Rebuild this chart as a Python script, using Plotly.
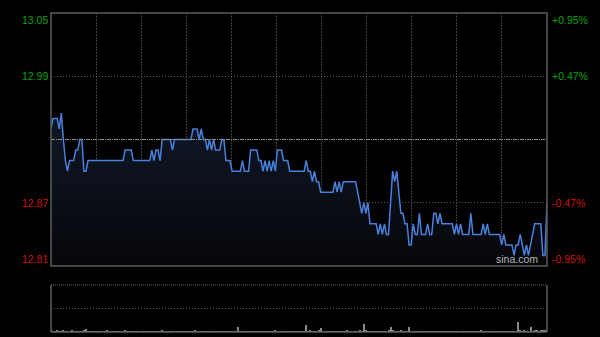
import plotly.graph_objects as go

# ---------------- data ----------------
minutes = list(range(242))
prices = [
    12.94, 12.95, 12.95, 12.95, 12.94, 12.955, 12.93, 12.91, 12.90, 12.91,
    12.91, 12.91, 12.92, 12.92, 12.93, 12.93, 12.90, 12.90, 12.91, 12.91,
    12.91, 12.91, 12.91, 12.91, 12.91, 12.91, 12.91, 12.91, 12.91, 12.91,
    12.91, 12.91, 12.91, 12.91, 12.91, 12.91, 12.92, 12.92, 12.92, 12.92,
    12.91, 12.91, 12.91, 12.91, 12.91, 12.91, 12.91, 12.91, 12.91, 12.92,
    12.91, 12.92, 12.92, 12.91, 12.93, 12.93, 12.93, 12.93, 12.93, 12.92,
    12.93, 12.93, 12.93, 12.93, 12.93, 12.93, 12.93, 12.93, 12.93, 12.94,
    12.94, 12.94, 12.93, 12.94, 12.93, 12.93, 12.92, 12.93, 12.92, 12.93,
    12.92, 12.92, 12.92, 12.93, 12.93, 12.91, 12.91, 12.91, 12.90, 12.90,
    12.90, 12.90, 12.90, 12.91, 12.90, 12.90, 12.90, 12.92, 12.92, 12.92,
    12.92, 12.91, 12.91, 12.90, 12.91, 12.90, 12.91, 12.90, 12.91, 12.90,
    12.92, 12.92, 12.92, 12.91, 12.91, 12.91, 12.90, 12.90, 12.90, 12.90,
    12.90, 12.90, 12.90, 12.90, 12.91, 12.90, 12.90, 12.89, 12.90, 12.89,
    12.89, 12.88, 12.88, 12.88, 12.88, 12.88, 12.88, 12.88, 12.89, 12.88,
    12.89, 12.88, 12.89, 12.89, 12.89, 12.89, 12.89, 12.89, 12.89, 12.88,
    12.87, 12.86, 12.87, 12.86, 12.87, 12.85, 12.85, 12.85, 12.85, 12.84,
    12.85, 12.84, 12.85, 12.84, 12.84, 12.87, 12.90, 12.89, 12.90, 12.88,
    12.86, 12.86, 12.85, 12.85, 12.83, 12.83, 12.85, 12.84, 12.84, 12.86,
    12.84, 12.84, 12.84, 12.85, 12.84, 12.84, 12.86, 12.86, 12.85, 12.86,
    12.85, 12.85, 12.85, 12.85, 12.85, 12.85, 12.84, 12.85, 12.84, 12.85,
    12.84, 12.84, 12.84, 12.84, 12.86, 12.84, 12.84, 12.84, 12.84, 12.84,
    12.85, 12.84, 12.85, 12.84, 12.84, 12.84, 12.84, 12.84, 12.84, 12.83,
    12.84, 12.83, 12.83, 12.83, 12.83, 12.82, 12.83, 12.83, 12.84, 12.83,
    12.82, 12.83, 12.82, 12.83, 12.84, 12.85, 12.85, 12.85, 12.85, 12.82,
    12.82, 12.87,
]
volumes = [
    3, 2, 2, 3, 2, 2, 3, 2, 2, 2, 3, 2, 2, 2, 2, 2, 3, 7, 2, 2,
    2, 2, 2, 1, 2, 2, 2, 3, 2, 2, 2, 2, 2, 2, 2, 2, 3, 2, 2, 2,
    2, 2, 2, 2, 2, 2, 2, 2, 2, 2, 2, 2, 2, 2, 3, 2, 2, 2, 2, 2,
    2, 2, 2, 2, 2, 2, 2, 2, 2, 2, 3, 2, 2, 2, 2, 2, 2, 2, 2, 2,
    2, 2, 2, 2, 2, 2, 2, 2, 2, 2, 2, 10, 2, 2, 2, 2, 2, 2, 2, 2,
    2, 2, 2, 2, 2, 2, 2, 2, 2, 3, 2, 2, 2, 2, 2, 2, 2, 2, 2, 2,
    2, 2, 2, 2, 14, 2, 3, 2, 2, 2, 3, 9, 2, 2, 2, 2, 2, 2, 2, 2,
    2, 2, 2, 2, 3, 2, 2, 2, 2, 2, 3, 2, 18, 3, 2, 2, 2, 2, 2, 2,
    2, 2, 2, 2, 3, 11, 3, 2, 2, 2, 3, 2, 2, 2, 10, 2, 2, 2, 2, 2,
    2, 2, 2, 2, 2, 2, 2, 2, 2, 2, 2, 2, 2, 2, 2, 2, 2, 2, 2, 2,
    2, 2, 2, 2, 2, 2, 2, 2, 2, 3, 2, 2, 2, 2, 2, 2, 2, 2, 2, 2,
    2, 2, 2, 2, 2, 2, 2, 21, 3, 2, 3, 2, 2, 10, 2, 3, 4, 2, 3, 3,
    3, 4,
]
left_ticks = [13.05, 12.99, 12.87, 12.81]
left_labels = ["13.05", "12.99", "12.87", "12.81"]
right_labels = ["+0.95%", "+0.47%", "-0.47%", "-0.95%"]
prev_close = 12.93

# ---------------- style ----------------
GREEN = "#0da00d"
RED = "#cc1111"
FRAME = "#5c5c5c"
FONT = "Liberation Sans"
X_MAX = 241
N_DIV = 11

fig = go.Figure()

fig.add_trace(go.Scatter(
    x=minutes, y=prices, mode="lines",
    line=dict(color="#4a80dc", width=1.5),
    fill="tozeroy",
    fillgradient=dict(type="vertical", start=12.81, stop=12.955,
                      colorscale=[[0, "rgb(6,7,10)"], [1, "rgb(16,24,40)"]]),
    hoverinfo="skip", xaxis="x", yaxis="y",
))

fig.add_trace(go.Bar(
    x=minutes, y=volumes, width=0.5,
    marker=dict(color="#8a8a8a", line=dict(width=0)),
    hoverinfo="skip", xaxis="x2", yaxis="y2",
))

x_dom = [51 / 600, 547 / 600]
y_main = [1 - 266 / 337, 1 - 13 / 337]
y_vol = [1 - 332 / 337, 1 - 285 / 337]

grid_x = [X_MAX * k / N_DIV for k in range(1, N_DIV)]

fig.update_layout(
    width=600, height=337,
    margin=dict(l=0, r=0, t=0, b=0),
    paper_bgcolor="black", plot_bgcolor="black",
    showlegend=False,
    bargap=0,
    xaxis=dict(domain=x_dom, range=[0, X_MAX], tickvals=grid_x,
               showticklabels=False, showgrid=True, gridcolor="#3c3c3c",
               griddash="2px,1px", gridwidth=1, zeroline=False, showline=False,
               ticks=""),
    yaxis=dict(domain=y_main, range=[12.81, 13.05], tickvals=[12.99, 12.87],
               showticklabels=False, showgrid=True, gridcolor="#5a5a5a",
               griddash="1px,2px", zeroline=False, showline=False, ticks=""),
    xaxis2=dict(domain=x_dom, range=[0, X_MAX], anchor="y2",
                showticklabels=False, showgrid=False, zeroline=False,
                showline=False, ticks=""),
    yaxis2=dict(domain=y_vol, range=[0, 100], anchor="x2", tickvals=[50],
                showticklabels=False, showgrid=True, gridcolor="#5a5a5a",
                griddash="1px,2px", zeroline=False, showline=False, ticks=""),
)

shapes = [
    # previous close line
    dict(type="line", xref="x domain", yref="y", x0=0, x1=1,
         y0=prev_close, y1=prev_close,
         line=dict(color="#8c8c8c", width=1, dash="4px,1px,1px,1px")),
    # main frame
    dict(type="rect", xref="x domain", yref="y domain", x0=0, x1=1, y0=0, y1=1,
         line=dict(color=FRAME, width=1.5)),
    # volume frame (left, right, bottom solid; top dotted)
    dict(type="line", xref="x2 domain", yref="y2 domain", x0=0, x1=0, y0=0, y1=1,
         line=dict(color=FRAME, width=1.5)),
    dict(type="line", xref="x2 domain", yref="y2 domain", x0=1, x1=1, y0=0, y1=1,
         line=dict(color=FRAME, width=1.5)),
    dict(type="line", xref="x2 domain", yref="y2 domain", x0=0, x1=1, y0=0, y1=0,
         line=dict(color=FRAME, width=1.5)),
    dict(type="line", xref="x2 domain", yref="y2 domain", x0=0, x1=1, y0=1, y1=1,
         line=dict(color="#6a6a6a", width=1, dash="1px,1px")),
]
fig.update_layout(shapes=shapes)

annotations = []
n = len(left_ticks)
for i, (v, lt, rt) in enumerate(zip(left_ticks, left_labels, right_labels)):
    color = GREEN if v > prev_close else RED
    if i == 0:
        yanchor, yshift = "top", 1
    elif i == n - 1:
        yanchor, yshift = "bottom", -1
    else:
        yanchor, yshift = "middle", 0
    annotations.append(dict(x=0, xref="x domain", y=v, yref="y", text=lt,
                            xanchor="right", yanchor=yanchor, yshift=yshift,
                            xshift=-1, showarrow=False,
                            font=dict(family=FONT, size=10.5, color=color)))
    annotations.append(dict(x=1, xref="x domain", y=v, yref="y", text=rt,
                            xanchor="left", yanchor=yanchor, yshift=yshift,
                            xshift=3, showarrow=False,
                            font=dict(family=FONT, size=10.5, color=color)))

annotations.append(dict(x=0.985, xref="x domain", y=0, yref="y domain",
                        text="sina.com", xanchor="right", yanchor="bottom",
                        yshift=-1, showarrow=False,
                        font=dict(family=FONT, size=10.5, color="#b4b4b4")))
fig.update_layout(annotations=annotations)

fig.write_html("out.html")
